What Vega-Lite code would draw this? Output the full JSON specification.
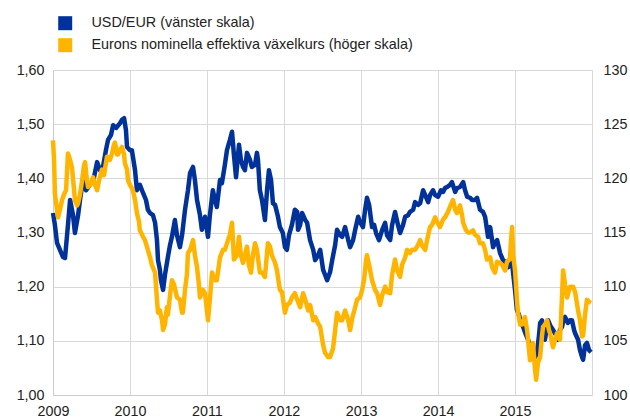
{
"$schema":"https://vega.github.io/schema/vega-lite/v6.json",
"width":539,"height":325,
"autosize":{"type":"none"},
"padding":{"left":53,"top":70,"right":38,"bottom":22},
"config":{"font":"Liberation Sans","view":{"stroke":null},"axis":{"labelFont":"Liberation Sans","labelFontSize":14.3,"labelColor":"#222222"}},
"datasets":{
"usd":[
{"date":"2009-01-01","value":1.336},{"date":"2009-01-10","value":1.314},{"date":"2009-01-20","value":1.281},{"date":"2009-02-03","value":1.268},{"date":"2009-02-17","value":1.255},{"date":"2009-02-27","value":1.253},{"date":"2009-03-13","value":1.314},{"date":"2009-03-23","value":1.360},{"date":"2009-04-06","value":1.332},{"date":"2009-04-15","value":1.299},{"date":"2009-04-30","value":1.332},{"date":"2009-05-09","value":1.360},{"date":"2009-05-23","value":1.397},{"date":"2009-06-07","value":1.378},{"date":"2009-06-25","value":1.388},{"date":"2009-07-14","value":1.401},{"date":"2009-07-29","value":1.430},{"date":"2009-08-12","value":1.415},{"date":"2009-08-26","value":1.421},{"date":"2009-09-09","value":1.452},{"date":"2009-09-19","value":1.471},{"date":"2009-10-03","value":1.480},{"date":"2009-10-13","value":1.498},{"date":"2009-10-27","value":1.493},{"date":"2009-11-15","value":1.502},{"date":"2009-11-24","value":1.508},{"date":"2009-12-04","value":1.511},{"date":"2009-12-13","value":1.489},{"date":"2009-12-18","value":1.458},
{"date":"2010-01-01","value":1.452},{"date":"2010-01-10","value":1.452},{"date":"2010-01-25","value":1.415},{"date":"2010-02-03","value":1.378},{"date":"2010-02-17","value":1.388},{"date":"2010-03-04","value":1.373},{"date":"2010-03-18","value":1.360},{"date":"2010-03-27","value":1.342},{"date":"2010-04-06","value":1.336},{"date":"2010-04-20","value":1.332},{"date":"2010-04-30","value":1.318},{"date":"2010-05-09","value":1.286},{"date":"2010-05-14","value":1.249},{"date":"2010-05-23","value":1.231},{"date":"2010-05-28","value":1.212},{"date":"2010-06-07","value":1.194},{"date":"2010-06-16","value":1.222},{"date":"2010-06-30","value":1.255},{"date":"2010-07-10","value":1.277},{"date":"2010-07-19","value":1.292},{"date":"2010-08-02","value":1.323},{"date":"2010-08-12","value":1.295},{"date":"2010-08-26","value":1.273},{"date":"2010-09-05","value":1.295},{"date":"2010-09-19","value":1.342},{"date":"2010-10-03","value":1.378},{"date":"2010-10-13","value":1.410},{"date":"2010-10-27","value":1.421},{"date":"2010-11-05","value":1.397},{"date":"2010-11-15","value":1.360},{"date":"2010-11-29","value":1.332},{"date":"2010-12-08","value":1.305},{"date":"2010-12-23","value":1.329},
{"date":"2011-01-06","value":1.292},{"date":"2011-01-15","value":1.332},{"date":"2011-01-29","value":1.378},{"date":"2011-02-08","value":1.360},{"date":"2011-02-17","value":1.347},{"date":"2011-03-04","value":1.397},{"date":"2011-03-13","value":1.391},{"date":"2011-03-27","value":1.425},{"date":"2011-04-06","value":1.452},{"date":"2011-04-20","value":1.471},{"date":"2011-04-30","value":1.486},{"date":"2011-05-09","value":1.443},{"date":"2011-05-19","value":1.402},{"date":"2011-06-02","value":1.462},{"date":"2011-06-11","value":1.434},{"date":"2011-06-21","value":1.421},{"date":"2011-06-30","value":1.415},{"date":"2011-07-10","value":1.447},{"date":"2011-07-24","value":1.434},{"date":"2011-08-02","value":1.421},{"date":"2011-08-17","value":1.425},{"date":"2011-08-26","value":1.447},{"date":"2011-08-31","value":1.434},{"date":"2011-09-09","value":1.378},{"date":"2011-09-19","value":1.360},{"date":"2011-10-03","value":1.323},{"date":"2011-10-13","value":1.378},{"date":"2011-10-22","value":1.415},{"date":"2011-11-01","value":1.397},{"date":"2011-11-10","value":1.354},{"date":"2011-11-20","value":1.351},{"date":"2011-12-04","value":1.329},{"date":"2011-12-13","value":1.310},{"date":"2011-12-27","value":1.299},
{"date":"2012-01-06","value":1.273},{"date":"2012-01-15","value":1.268},{"date":"2012-01-25","value":1.295},{"date":"2012-02-08","value":1.314},{"date":"2012-02-22","value":1.342},{"date":"2012-03-04","value":1.338},{"date":"2012-03-08","value":1.305},{"date":"2012-03-18","value":1.314},{"date":"2012-03-27","value":1.336},{"date":"2012-04-11","value":1.323},{"date":"2012-04-20","value":1.318},{"date":"2012-05-04","value":1.286},{"date":"2012-05-19","value":1.268},{"date":"2012-05-28","value":1.249},{"date":"2012-06-11","value":1.258},{"date":"2012-06-21","value":1.268},{"date":"2012-07-05","value":1.231},{"date":"2012-07-14","value":1.222},{"date":"2012-07-24","value":1.212},{"date":"2012-08-07","value":1.227},{"date":"2012-08-17","value":1.249},{"date":"2012-08-31","value":1.277},{"date":"2012-09-09","value":1.305},{"date":"2012-09-24","value":1.295},{"date":"2012-10-03","value":1.292},{"date":"2012-10-17","value":1.310},{"date":"2012-11-01","value":1.286},{"date":"2012-11-10","value":1.273},{"date":"2012-11-24","value":1.286},{"date":"2012-12-04","value":1.305},{"date":"2012-12-18","value":1.329},{"date":"2012-12-27","value":1.319},
{"date":"2013-01-10","value":1.310},{"date":"2013-01-20","value":1.342},{"date":"2013-01-29","value":1.364},{"date":"2013-02-08","value":1.351},{"date":"2013-02-22","value":1.310},{"date":"2013-03-04","value":1.314},{"date":"2013-03-13","value":1.299},{"date":"2013-03-27","value":1.286},{"date":"2013-04-11","value":1.305},{"date":"2013-04-25","value":1.318},{"date":"2013-05-04","value":1.295},{"date":"2013-05-19","value":1.286},{"date":"2013-05-28","value":1.314},{"date":"2013-06-11","value":1.338},{"date":"2013-06-25","value":1.314},{"date":"2013-07-05","value":1.299},{"date":"2013-07-19","value":1.314},{"date":"2013-07-29","value":1.329},{"date":"2013-08-12","value":1.332},{"date":"2013-08-21","value":1.338},{"date":"2013-09-05","value":1.342},{"date":"2013-09-14","value":1.356},{"date":"2013-09-28","value":1.351},{"date":"2013-10-08","value":1.354},{"date":"2013-10-22","value":1.378},{"date":"2013-11-01","value":1.369},{"date":"2013-11-15","value":1.356},{"date":"2013-11-24","value":1.369},{"date":"2013-12-08","value":1.378},{"date":"2013-12-18","value":1.369},
{"date":"2014-01-01","value":1.366},{"date":"2014-01-15","value":1.378},{"date":"2014-01-25","value":1.375},{"date":"2014-02-03","value":1.382},{"date":"2014-02-13","value":1.384},{"date":"2014-02-27","value":1.388},{"date":"2014-03-08","value":1.393},{"date":"2014-03-23","value":1.375},{"date":"2014-04-01","value":1.382},{"date":"2014-04-15","value":1.384},{"date":"2014-04-30","value":1.393},{"date":"2014-05-09","value":1.378},{"date":"2014-05-19","value":1.366},{"date":"2014-06-02","value":1.364},{"date":"2014-06-11","value":1.360},{"date":"2014-06-25","value":1.360},{"date":"2014-07-05","value":1.364},{"date":"2014-07-19","value":1.342},{"date":"2014-08-02","value":1.338},{"date":"2014-08-12","value":1.329},{"date":"2014-08-26","value":1.292},{"date":"2014-09-05","value":1.310},{"date":"2014-09-19","value":1.273},{"date":"2014-09-28","value":1.281},{"date":"2014-10-08","value":1.286},{"date":"2014-10-22","value":1.262},{"date":"2014-11-05","value":1.249},{"date":"2014-11-15","value":1.246},{"date":"2014-11-29","value":1.236},{"date":"2014-12-08","value":1.240},{"date":"2014-12-18","value":1.244},{"date":"2014-12-23","value":1.225},
{"date":"2015-01-01","value":1.194},{"date":"2015-01-10","value":1.157},{"date":"2015-01-20","value":1.148},{"date":"2015-01-29","value":1.133},{"date":"2015-02-08","value":1.126},{"date":"2015-02-22","value":1.111},{"date":"2015-03-04","value":1.102},{"date":"2015-03-13","value":1.092},{"date":"2015-03-23","value":1.089},{"date":"2015-04-06","value":1.070},{"date":"2015-04-15","value":1.078},{"date":"2015-04-25","value":1.111},{"date":"2015-04-30","value":1.133},{"date":"2015-05-09","value":1.138},{"date":"2015-05-23","value":1.102},{"date":"2015-06-02","value":1.129},{"date":"2015-06-07","value":1.138},{"date":"2015-06-16","value":1.129},{"date":"2015-06-30","value":1.120},{"date":"2015-07-14","value":1.111},{"date":"2015-07-24","value":1.102},{"date":"2015-08-02","value":1.120},{"date":"2015-08-12","value":1.126},{"date":"2015-08-21","value":1.142},{"date":"2015-08-26","value":1.144},{"date":"2015-09-09","value":1.133},{"date":"2015-09-19","value":1.138},{"date":"2015-09-28","value":1.138},{"date":"2015-10-08","value":1.120},{"date":"2015-10-13","value":1.114},{"date":"2015-10-27","value":1.102},{"date":"2015-11-05","value":1.083},{"date":"2015-11-15","value":1.070},{"date":"2015-11-20","value":1.065},{"date":"2015-11-29","value":1.092},{"date":"2015-12-08","value":1.096},{"date":"2015-12-18","value":1.083},{"date":"2015-12-27","value":1.079}
],
"neer":[
{"date":"2009-01-01","value":123.5},{"date":"2009-01-06","value":121.7},{"date":"2009-01-10","value":118.6},{"date":"2009-01-20","value":117.1},{"date":"2009-01-25","value":116.4},{"date":"2009-02-03","value":117.1},{"date":"2009-02-13","value":118.0},{"date":"2009-02-22","value":118.5},{"date":"2009-03-04","value":118.9},{"date":"2009-03-13","value":122.3},{"date":"2009-03-23","value":121.7},{"date":"2009-04-01","value":121.0},{"date":"2009-04-11","value":118.9},{"date":"2009-04-15","value":118.0},{"date":"2009-04-25","value":117.5},{"date":"2009-04-30","value":117.7},{"date":"2009-05-09","value":118.5},{"date":"2009-05-19","value":119.8},{"date":"2009-05-28","value":121.2},{"date":"2009-06-02","value":121.5},{"date":"2009-06-11","value":119.8},{"date":"2009-06-16","value":119.2},{"date":"2009-06-25","value":119.4},{"date":"2009-07-10","value":120.1},{"date":"2009-07-19","value":119.4},{"date":"2009-07-29","value":118.9},{"date":"2009-08-07","value":119.8},{"date":"2009-08-21","value":120.8},{"date":"2009-08-31","value":120.3},{"date":"2009-09-14","value":122.0},{"date":"2009-09-28","value":121.7},{"date":"2009-10-08","value":122.3},{"date":"2009-10-17","value":123.1},{"date":"2009-10-22","value":123.3},{"date":"2009-11-01","value":122.2},{"date":"2009-11-05","value":122.2},{"date":"2009-11-15","value":122.6},{"date":"2009-11-24","value":122.9},{"date":"2009-12-04","value":122.2},{"date":"2009-12-08","value":121.4},{"date":"2009-12-18","value":120.8},{"date":"2009-12-23","value":119.8},
{"date":"2010-01-01","value":119.4},{"date":"2010-01-15","value":118.9},{"date":"2010-01-25","value":118.0},{"date":"2010-02-03","value":116.8},{"date":"2010-02-13","value":116.0},{"date":"2010-02-17","value":115.2},{"date":"2010-03-04","value":114.6},{"date":"2010-03-13","value":114.3},{"date":"2010-03-27","value":113.4},{"date":"2010-04-06","value":112.7},{"date":"2010-04-15","value":112.0},{"date":"2010-04-30","value":111.3},{"date":"2010-05-04","value":110.2},{"date":"2010-05-09","value":108.8},{"date":"2010-05-14","value":107.6},{"date":"2010-05-23","value":107.8},{"date":"2010-06-02","value":106.9},{"date":"2010-06-07","value":106.0},{"date":"2010-06-16","value":106.5},{"date":"2010-06-25","value":108.1},{"date":"2010-06-30","value":107.4},{"date":"2010-07-10","value":109.2},{"date":"2010-07-19","value":110.6},{"date":"2010-07-29","value":110.2},{"date":"2010-08-12","value":109.0},{"date":"2010-08-26","value":108.8},{"date":"2010-09-05","value":107.6},{"date":"2010-09-09","value":107.6},{"date":"2010-09-19","value":109.7},{"date":"2010-09-28","value":111.1},{"date":"2010-10-03","value":113.1},{"date":"2010-10-13","value":113.4},{"date":"2010-10-27","value":114.3},{"date":"2010-11-05","value":112.9},{"date":"2010-11-15","value":111.8},{"date":"2010-11-24","value":110.2},{"date":"2010-11-29","value":109.0},{"date":"2010-12-13","value":109.7},{"date":"2010-12-23","value":109.4},
{"date":"2011-01-01","value":107.8},{"date":"2011-01-06","value":106.9},{"date":"2011-01-15","value":108.8},{"date":"2011-01-25","value":111.3},{"date":"2011-02-08","value":110.6},{"date":"2011-02-17","value":110.6},{"date":"2011-03-04","value":112.7},{"date":"2011-03-18","value":113.4},{"date":"2011-03-27","value":113.4},{"date":"2011-04-11","value":114.3},{"date":"2011-04-20","value":114.8},{"date":"2011-04-30","value":115.9},{"date":"2011-05-09","value":112.5},{"date":"2011-05-23","value":112.9},{"date":"2011-06-02","value":114.6},{"date":"2011-06-11","value":112.9},{"date":"2011-06-21","value":112.2},{"date":"2011-06-30","value":112.9},{"date":"2011-07-10","value":113.7},{"date":"2011-07-19","value":112.0},{"date":"2011-07-29","value":111.3},{"date":"2011-08-07","value":112.9},{"date":"2011-08-17","value":114.0},{"date":"2011-08-26","value":113.4},{"date":"2011-09-09","value":111.3},{"date":"2011-09-19","value":111.3},{"date":"2011-10-03","value":110.9},{"date":"2011-10-17","value":114.0},{"date":"2011-10-27","value":113.7},{"date":"2011-11-05","value":112.9},{"date":"2011-11-20","value":112.2},{"date":"2011-11-29","value":111.5},{"date":"2011-12-13","value":109.7},{"date":"2011-12-23","value":109.5},
{"date":"2012-01-06","value":107.6},{"date":"2012-01-15","value":108.3},{"date":"2012-01-29","value":108.5},{"date":"2012-02-08","value":109.0},{"date":"2012-02-22","value":109.4},{"date":"2012-03-04","value":108.8},{"date":"2012-03-18","value":108.1},{"date":"2012-04-01","value":109.4},{"date":"2012-04-11","value":108.8},{"date":"2012-04-25","value":107.8},{"date":"2012-05-04","value":108.3},{"date":"2012-05-19","value":106.9},{"date":"2012-05-28","value":107.2},{"date":"2012-06-11","value":106.6},{"date":"2012-06-21","value":106.3},{"date":"2012-07-05","value":104.6},{"date":"2012-07-14","value":103.9},{"date":"2012-07-29","value":103.5},{"date":"2012-08-07","value":103.5},{"date":"2012-08-21","value":104.3},{"date":"2012-08-31","value":106.0},{"date":"2012-09-09","value":107.6},{"date":"2012-09-24","value":106.9},{"date":"2012-10-03","value":106.9},{"date":"2012-10-17","value":107.8},{"date":"2012-11-01","value":106.9},{"date":"2012-11-10","value":106.0},{"date":"2012-11-20","value":107.1},{"date":"2012-12-04","value":108.1},{"date":"2012-12-13","value":108.8},{"date":"2012-12-27","value":109.0},
{"date":"2013-01-06","value":109.7},{"date":"2013-01-15","value":110.6},{"date":"2013-01-25","value":112.5},{"date":"2013-01-29","value":112.9},{"date":"2013-02-08","value":112.0},{"date":"2013-02-22","value":110.6},{"date":"2013-03-08","value":109.7},{"date":"2013-03-18","value":109.4},{"date":"2013-04-01","value":108.3},{"date":"2013-04-11","value":109.2},{"date":"2013-04-25","value":110.0},{"date":"2013-05-04","value":109.5},{"date":"2013-05-19","value":109.4},{"date":"2013-05-28","value":111.1},{"date":"2013-06-11","value":112.5},{"date":"2013-06-21","value":111.5},{"date":"2013-07-05","value":110.9},{"date":"2013-07-14","value":112.0},{"date":"2013-07-29","value":112.7},{"date":"2013-08-07","value":113.4},{"date":"2013-08-21","value":113.1},{"date":"2013-08-31","value":113.4},{"date":"2013-09-14","value":113.4},{"date":"2013-09-24","value":113.7},{"date":"2013-10-08","value":114.3},{"date":"2013-10-17","value":113.8},{"date":"2013-11-01","value":113.4},{"date":"2013-11-10","value":114.3},{"date":"2013-11-24","value":115.5},{"date":"2013-12-04","value":115.7},{"date":"2013-12-18","value":116.4},{"date":"2013-12-27","value":116.0},
{"date":"2014-01-10","value":115.5},{"date":"2014-01-25","value":116.2},{"date":"2014-02-03","value":116.4},{"date":"2014-02-17","value":116.9},{"date":"2014-02-27","value":117.4},{"date":"2014-03-13","value":118.0},{"date":"2014-03-23","value":117.1},{"date":"2014-04-01","value":116.8},{"date":"2014-04-15","value":117.5},{"date":"2014-04-25","value":116.6},{"date":"2014-04-30","value":115.9},{"date":"2014-05-14","value":115.2},{"date":"2014-05-23","value":115.0},{"date":"2014-06-02","value":115.0},{"date":"2014-06-16","value":115.2},{"date":"2014-06-25","value":114.8},{"date":"2014-07-10","value":114.6},{"date":"2014-07-19","value":114.0},{"date":"2014-08-02","value":114.0},{"date":"2014-08-12","value":113.4},{"date":"2014-08-21","value":112.5},{"date":"2014-09-05","value":112.7},{"date":"2014-09-14","value":111.8},{"date":"2014-09-28","value":111.3},{"date":"2014-10-08","value":112.3},{"date":"2014-10-22","value":112.2},{"date":"2014-11-01","value":112.0},{"date":"2014-11-15","value":111.5},{"date":"2014-11-24","value":112.3},{"date":"2014-12-08","value":112.6},{"date":"2014-12-13","value":114.3},{"date":"2014-12-18","value":115.5},{"date":"2014-12-23","value":112.9},
{"date":"2015-01-01","value":111.5},{"date":"2015-01-10","value":108.8},{"date":"2015-01-15","value":107.6},{"date":"2015-01-25","value":106.5},{"date":"2015-02-03","value":106.5},{"date":"2015-02-17","value":107.2},{"date":"2015-02-27","value":106.0},{"date":"2015-03-04","value":105.1},{"date":"2015-03-13","value":103.2},{"date":"2015-03-23","value":104.2},{"date":"2015-03-27","value":104.8},{"date":"2015-04-06","value":102.3},{"date":"2015-04-11","value":101.4},{"date":"2015-04-20","value":103.0},{"date":"2015-04-30","value":103.5},{"date":"2015-05-09","value":105.5},{"date":"2015-05-14","value":106.3},{"date":"2015-05-23","value":106.5},{"date":"2015-06-02","value":106.9},{"date":"2015-06-11","value":106.0},{"date":"2015-06-16","value":105.7},{"date":"2015-06-30","value":104.4},{"date":"2015-07-10","value":105.1},{"date":"2015-07-19","value":105.7},{"date":"2015-07-24","value":105.4},{"date":"2015-08-02","value":105.1},{"date":"2015-08-07","value":106.9},{"date":"2015-08-17","value":111.5},{"date":"2015-08-26","value":110.2},{"date":"2015-09-05","value":109.0},{"date":"2015-09-14","value":109.7},{"date":"2015-09-19","value":110.0},{"date":"2015-10-03","value":110.0},{"date":"2015-10-13","value":109.5},{"date":"2015-10-27","value":107.8},{"date":"2015-11-05","value":106.9},{"date":"2015-11-15","value":105.4},{"date":"2015-11-20","value":105.5},{"date":"2015-11-29","value":107.4},{"date":"2015-12-08","value":108.8},{"date":"2015-12-18","value":108.6},{"date":"2015-12-27","value":108.5}
]
},
"layer":[
{"data":{"name":"usd"},
 "mark":{"type":"line","strokeWidth":4.5,"strokeJoin":"round"},
 "encoding":{
  "x":{"field":"date","type":"temporal","scale":{"domain":[{"year":2009,"month":1,"date":1},{"year":2016,"month":1,"date":1}]},
   "axis":{"values":[{"year":2009,"month":1,"date":1},{"year":2010,"month":1,"date":1},{"year":2011,"month":1,"date":1},{"year":2012,"month":1,"date":1},{"year":2013,"month":1,"date":1},{"year":2014,"month":1,"date":1},{"year":2015,"month":1,"date":1},{"year":2016,"month":1,"date":1}],
    "labelExpr":"year(datum.value) > 2015 ? '' : timeFormat(datum.value, '%Y')","title":null,"grid":true,"gridColor":"#d9d9d9","domainColor":"#cccccc","ticks":false,"labelPadding":9,"labelFlush":false,"labelOverlap":false,"labelAngle":0}},
  "y":{"field":"value","type":"quantitative","scale":{"domain":[1,1.6],"nice":false,"zero":false},
   "axis":{"values":[1,1.1,1.2,1.3,1.4,1.5,1.6],"labelExpr":"replace(format(datum.value, '.2f'), '.', ',')","title":null,"grid":true,"gridColor":"#d9d9d9","domainColor":"#cccccc","ticks":false,"labelPadding":9}},
  "color":{"datum":"USD/EUR (vänster skala)","type":"nominal",
   "scale":{"domain":["USD/EUR (vänster skala)","Eurons nominella effektiva växelkurs (höger skala)"],"range":["#003299","#FFB400"]},
   "legend":{"orient":"none","legendX":5,"legendY":-54,"title":null,"symbolType":"square","symbolSize":196,"labelFontSize":14.4,"labelFont":"Liberation Sans","labelColor":"#222222","labelLimit":0,"rowPadding":6,"labelOffset":19,"padding":0,"direction":"vertical",
    "encode":{"symbols":{"update":{"fill":{"scale":"color","field":"value"},"stroke":{"value":"transparent"},"strokeWidth":{"value":0}}}}}}
 }},
{"data":{"name":"neer"},
 "mark":{"type":"line","strokeWidth":4.5,"strokeJoin":"round"},
 "encoding":{
  "x":{"field":"date","type":"temporal"},
  "y":{"field":"value","type":"quantitative","scale":{"domain":[100,130],"nice":false,"zero":false},
   "axis":{"orient":"right","values":[100,105,110,115,120,125,130],"title":null,"grid":false,"domain":false,"ticks":false,"labelPadding":11}},
  "color":{"datum":"Eurons nominella effektiva växelkurs (höger skala)","type":"nominal"}
 }}
],
"resolve":{"scale":{"y":"independent"}}
}
